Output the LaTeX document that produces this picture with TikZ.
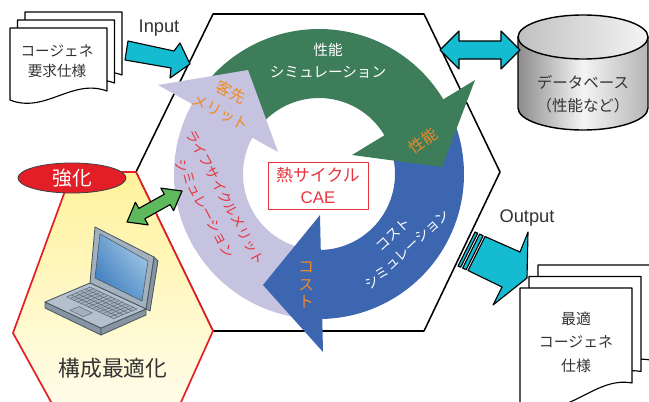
\documentclass[tikz,border=0pt]{standalone}
\usepackage{fontspec}
\setmainfont{Noto Sans CJK JP}
\newfontfamily\latinsf{Liberation Sans}
\usepackage{tikz}
\usetikzlibrary{arrows,calc,shapes.geometric,shadings}
\definecolor{reidza}{rgb}{0.243,0.490,0.353}
\definecolor{rduubq}{rgb}{0.239,0.400,0.690}
\definecolor{czcreq}{rgb}{0.773,0.765,0.878}
\definecolor{wzbbdq}{rgb}{0.082,0.733,0.816}
\definecolor{eorzrd}{rgb}{0.910,0.208,0.239}
\definecolor{efoaei}{rgb}{0.937,0.541,0.153}
\definecolor{erweeu}{rgb}{0.890,0.118,0.149}
\definecolor{zdbpzb}{rgb}{0.365,0.725,0.357}
\definecolor{fffepb}{rgb}{1.,0.949,0.608}
\definecolor{fffdef}{rgb}{1.,0.992,0.937}
\definecolor{rrrrrr}{rgb}{0.2,0.2,0.2}
\definecolor{arbwbe}{rgb}{0.639,0.694,0.745}
\definecolor{btcqcb}{rgb}{0.706,0.753,0.796}
\definecolor{oipzae}{rgb}{0.529,0.584,0.635}
\definecolor{tbziur}{rgb}{0.294,0.341,0.388}
\definecolor{efufbz}{rgb}{0.184,0.435,0.710}
\definecolor{uapfdq}{rgb}{0.416,0.624,0.816}
\definecolor{bpdafq}{rgb}{0.725,0.855,0.941}
\definecolor{ocococ}{rgb}{0.549,0.549,0.549}
\definecolor{ftftft}{rgb}{0.957,0.957,0.957}
\definecolor{bzbzbz}{rgb}{0.710,0.710,0.710}
\definecolor{cqcqcq}{rgb}{0.753,0.753,0.753}
\begin{document}
\begin{tikzpicture}[line cap=round,line join=round,x=0.025cm,y=-0.025cm,
	lbl/.style={inner sep=0pt,outer sep=0pt,align=center},
	blockarrow/.style={draw=black,line width=0.8pt,fill=wzbbdq},
	sheet/.style={draw=black,line width=0.8pt,fill=white},
	lappart/.style={draw=tbziur,line width=0.6pt},
	keyline/.style={draw=tbziur,line width=0.25pt}]
\useasboundingbox (0,0) rectangle (649,401);
% main hexagon
\draw[line width=1.1pt] (213,14) -- (424,14) -- (500,172) -- (424,331) -- (213,331) -- (136,172) -- cycle;
% ring bodies first, heads on top of the next tail
\begin{scope}[shift={(319,174)}]
	\fill[color=reidza] (-145:145) arc[start angle=-145,end angle=-30,radius=145] -- (-30:76) arc[start angle=-30,end angle=-145,radius=76] -- cycle;
	\fill[color=rduubq] (-25:145) arc[start angle=-25,end angle=90,radius=145] -- (90:76) arc[start angle=90,end angle=-25,radius=76] -- cycle;
	\fill[color=czcreq] (95:145) arc[start angle=95,end angle=212,radius=145] -- (212:76) arc[start angle=212,end angle=95,radius=76] -- cycle;
\end{scope}
\fill[color=reidza] (475,80) -- (442,167) -- (352,155) -- cycle;
\fill[color=rduubq] (320,215) -- (263,285) -- (323,352) -- cycle;
\fill[color=czcreq] (158,85) -- (248,70) -- (278,152) -- cycle;
% ring texts
\node[lbl,text=white,font=\fontsize{10.4}{15.6}\selectfont] (perfsim) at (328,61) {性能\\シミュレーション};
\node[lbl,text=efoaei,font=\fontsize{11}{14}\selectfont,rotate=34] (perf) at (423,141) {性能};
\node[lbl,text=white,font=\fontsize{9.8}{14.6}\selectfont,rotate=43] (costsim) at (400,242) {コスト\\シミュレーション};
\node[lbl,text=efoaei,font=\fontsize{11}{12.5}\selectfont] (cost) at (306,285) {コ\\ス\\ト};
\node[lbl,text=eorzrd,font=\fontsize{9.8}{16.3}\selectfont,rotate=-62] (lcmsim) at (215,203) {ライフサイクルメリット\\シミュレーション};
\node[lbl,text=efoaei,font=\fontsize{11}{16}\selectfont,rotate=-27] (merit) at (226,102) {客先\\メリット};
\node[lbl,draw=eorzrd,line width=0.7pt,fill=white,text=eorzrd,minimum width=2.5cm,minimum height=1.175cm,font=\fontsize{12}{16.3}\selectfont] (cae) at (318,185.5) {熱サイクル\\{\latinsf CAE}};
% configuration hexagon
\draw[draw=erweeu,line width=1.2pt,top color=fffepb,bottom color=fffdef] (13,333) -- (72,172) -- (136,172) -- (213,331) -- (173,420) -- (61,420) -- cycle;
\node[ellipse,draw=black!75,line width=0.6pt,fill=erweeu,minimum width=2.7cm,minimum height=0.75cm,inner sep=0pt,text=white,font=\fontsize{14}{16}\selectfont] (boost) at (72,178) {強化};
\draw[draw=black,line width=0.8pt,fill=zdbpzb] (127,222) -- (135.4,202.3) -- (138.9,208.4) -- (164.3,194.2) -- (160.8,188.1) -- (182,191) -- (173.6,210.7) -- (170.2,204.6) -- (144.8,218.8) -- (148.2,224.9) -- cycle;
% laptop
\draw[lappart,fill=oipzae] (154,257) -- (158,261) -- (150,311) -- (146,309) -- cycle;
\draw[lappart,fill=arbwbe] (95,227) -- (154,257) -- (146,309) -- (90,283) -- cycle;
\shade[upper left=uapfdq,upper right=bpdafq,lower left=efufbz,lower right=uapfdq] (100,234) -- (148,261) -- (142,301) -- (95,278) -- cycle;
\draw[lappart,line width=0.4pt] (100,234) -- (148,261) -- (142,301) -- (95,278) -- cycle;
\draw[lappart,fill=oipzae] (45,302) -- (101,328) -- (101,335) -- (45,308) -- cycle;
\draw[lappart,fill=oipzae] (101,328) -- (146,309) -- (146,315) -- (101,335) -- cycle;
\draw[lappart,fill=btcqcb] (90,283) -- (146,309) -- (101,328) -- (45,302) -- cycle;
\coordinate (ka) at (90,287);
\coordinate (kb) at (137,309);
\coordinate (kc) at (113.6,318.7);
\coordinate (kd) at (66.6,296.9);
\draw[keyline,fill=arbwbe] (ka) -- (kb) -- (kc) -- (kd) -- cycle;
\foreach \t in {1,2,3,4}
	\draw[keyline] ($(ka)!{\t/5}!(kd)$) -- ($(kb)!{\t/5}!(kc)$);
\foreach \s in {1,...,12}
	\draw[keyline] ($(ka)!{\s/13}!(kb)$) -- ($(kd)!{\s/13}!(kc)$);
\draw[keyline,fill=arbwbe] (78.9,306.6) -- (92.3,312.8) -- (83.3,316.6) -- (69.9,310.4) -- cycle;
\node[lbl,text=rrrrrr,font=\fontsize{15.5}{18}\selectfont] (confopt) at (113,368) {構成最適化};
% requirement sheets and input
\foreach \k in {2,1,0}
	\draw[sheet,shift={(7.5*\k,-8*\k)}] (10,28) -- (107,28) -- (107,91) .. controls (72,78) and (45,114) .. (10,100) -- cycle;
\node[lbl,text=rrrrrr,font=\fontsize{10.4}{14.2}\selectfont] (spec) at (57,61) {コージェネ\\要求仕様};
\draw[blockarrow] (128,41) -- (174,51) -- (180,43) -- (190,64) -- (170,78) -- (171,68) -- (125,60) -- cycle;
\node[lbl,text=rrrrrr,font=\latinsf\fontsize{13}{15}\selectfont] (input) at (159,28) {Input};
% database
\draw[line width=1pt,left color=ocococ,right color=bzbzbz,middle color=ftftft] (518,37) -- (518,108) arc[start angle=180,end angle=0,x radius=65,y radius=22] -- (648,37) -- cycle;
\draw[line width=1pt,left color=cqcqcq,right color=ftftft] (583,37) ellipse[x radius=65,y radius=22];
\node[lbl,text=rrrrrr,font=\fontsize{11}{16.3}\selectfont] (db) at (583,94) {データベース\\（性能など）};
\draw[blockarrow] (440,50) -- (459,31) -- (459,41) -- (501,41) -- (501,31) -- (520,50) -- (501,69) -- (501,59) -- (459,59) -- (459,69) -- cycle;
% output and result sheets
\draw[blockarrow] (475,232) -- (477.7,233.2) -- (460.7,267.2) -- (458,266) -- cycle;
\draw[blockarrow] (479.6,234.1) -- (483.2,235.7) -- (466.2,269.7) -- (462.6,268.1) -- cycle;
\draw[blockarrow] (485,236.5) -- (520,252) -- (528,232) -- (527,278) -- (493,305) -- (502,287) -- (468,270.5) -- cycle;
\node[lbl,text=rrrrrr,font=\latinsf\fontsize{13}{15}\selectfont] (output) at (527,218) {Output};
\foreach \k in {2,1,0}
	\draw[sheet,shift={(9*\k,-11.5*\k)}] (520,288) -- (632,288) -- (632,383) .. controls (595,376) and (570,418) .. (520,410) -- cycle;
\node[lbl,text=rrrrrr,font=\fontsize{10.6}{16.7}\selectfont] (optspec) at (576,342) {最適\\コージェネ\\仕様};
\end{tikzpicture}
\end{document}
